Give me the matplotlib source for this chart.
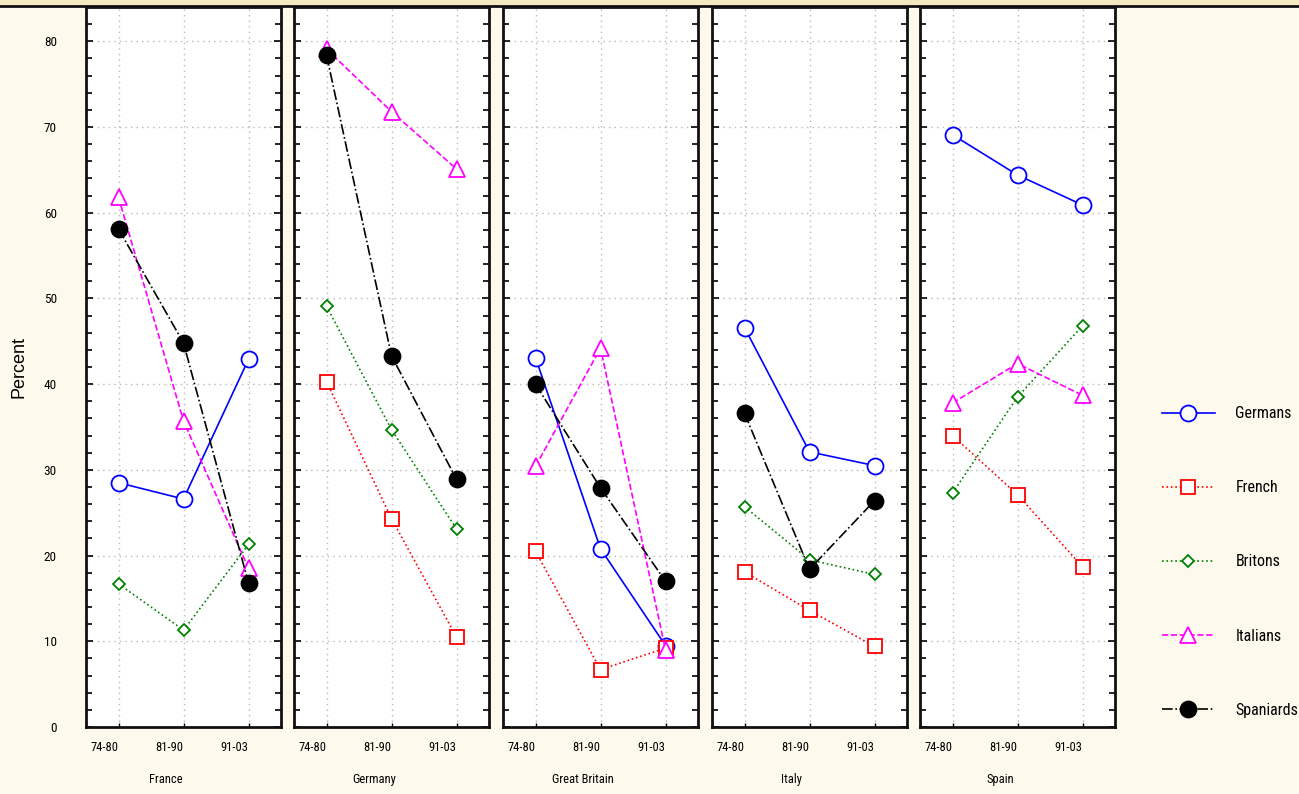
import numpy as np
import matplotlib
matplotlib.use("Agg")
import matplotlib.pyplot as plt
import matplotlib.transforms as mtransforms
from matplotlib.patches import Rectangle
from matplotlib.ticker import MultipleLocator

# paises (paineis) e periodos
paises = ["France", "Germany", "Great Britain", "Italy", "Spain"]
periodos = ["74-80", "81-90", "91-03"]
nan = np.nan

# percentuais por grupo de respondentes, um trio por pais (na ordem de `paises`)
germans = [[28.5, 26.6, 42.9], [nan, nan, nan], [43.1, 20.8, 9.5],
           [46.6, 32.1, 30.5], [69.1, 64.4, 60.9]]
french = [[nan, nan, nan], [40.3, 24.3, 10.5], [20.5, 6.7, 9.2],
          [18.1, 13.6, 9.4], [34.0, 27.1, 18.7]]
britons = [[16.7, 11.3, 21.3], [49.1, 34.7, 23.1], [nan, nan, nan],
           [25.7, 19.5, 17.8], [27.3, 38.5, 46.8]]
italians = [[61.8, 35.7, 18.5], [79.1, 71.8, 65.1], [30.4, 44.2, 9.0],
            [nan, nan, nan], [37.8, 42.4, 38.7]]
spaniards = [[58.1, 44.8, 16.8], [78.4, 43.3, 28.9], [40.0, 27.9, 17.0],
             [36.6, 18.4, 26.4], [nan, nan, nan]]

series = [
    ("Germans", germans, dict(color="#0000ff", ls="-", marker="o", ms=11.5,
                              mfc="white")),
    ("French", french, dict(color="#ff0000", ls=":", marker="s", ms=10.5,
                            mfc="white")),
    ("Britons", britons, dict(color="#008000", ls=":", marker="D", ms=6.5,
                              mfc="white")),
    ("Italians", italians, dict(color="#ff00ff", ls="--", marker="^", ms=11,
                                mfc="white")),
    ("Spaniards", spaniards, dict(color="black", ls="-.", marker="o", ms=11.5,
                                  mfc="black")),
]

FONTE = ["Roboto Condensed", "DejaVu Sans"]
BG = "#fef9ed"

W, H = 1299, 794
fig = plt.figure(figsize=(W / 100, H / 100), dpi=100, facecolor=BG)

# faixa amarela no topo
fig.patches.append(Rectangle((0, 1 - 5 / H), 1, 5 / H, transform=fig.transFigure,
                             fc="#f5e9c2", ec="none", zorder=0))
fig.add_artist(plt.Line2D([0, 1], [1 - 5.5 / H, 1 - 5.5 / H],
                          transform=fig.transFigure, color="#111111", lw=2))

lefts = [86, 294, 503, 712, 920]
largura = 195
base = 727
topo = 7

x = np.arange(len(periodos))
linhas = []
for k, pais in enumerate(paises):
    ax = fig.add_axes([lefts[k] / W, 1 - base / H, largura / W, (base - topo) / H])
    ax.set_facecolor("white")
    for nome, dados, estilo in series:
        ln, = ax.plot(x, dados[k], lw=1.2, mew=1.3, mec=estilo["color"],
                      label=nome, clip_on=False, **estilo)
        if k == 0:
            linhas.append(ln)
    ax.set_xlim(-0.5, 2.5)
    ax.set_ylim(0, 84)
    ax.yaxis.set_major_locator(MultipleLocator(10))
    ax.yaxis.set_minor_locator(MultipleLocator(2))
    ax.set_xticks(x)
    ax.set_xticklabels(periodos, fontsize=9, family=FONTE, ha="right")
    off = mtransforms.ScaledTranslation(-0.05, 0, fig.dpi_scale_trans)
    for lab in ax.get_xticklabels():
        lab.set_transform(lab.get_transform() + off)
    ax.tick_params(axis="x", direction="in", length=3, pad=10, width=1)
    ax.tick_params(axis="y", which="both", direction="in", left=True, right=True,
                   width=1.2)
    ax.tick_params(axis="y", which="major", length=5)
    ax.tick_params(axis="y", which="minor", length=4)
    if k == 0:
        ax.tick_params(axis="y", labelsize=9.5, pad=21)
        for lab in ax.get_yticklabels():
            lab.set_family(FONTE)
        ax.set_ylabel("Percent", fontsize=13, family=["Liberation Sans", "DejaVu Sans"],
                      labelpad=12)
    else:
        ax.tick_params(axis="y", labelleft=False)
    ax.grid(True, ls=(0, (1, 3)), color="#b8b8b8", lw=1)
    for s in ax.spines.values():
        s.set_linewidth(2)
        s.set_color("#111111")
    ax.set_xlabel(pais, fontsize=9, family=FONTE, labelpad=14, x=0.41)

fig.legend(handles=linhas, loc="center left", bbox_to_anchor=(1162 / W, 1 - 562 / H),
           frameon=False, prop={"family": FONTE, "size": 11.5},
           handlelength=3.3, handletextpad=1.3, labelspacing=3.7,
           borderpad=0, borderaxespad=0)

fig.savefig("out.png", dpi=100, facecolor=BG)
